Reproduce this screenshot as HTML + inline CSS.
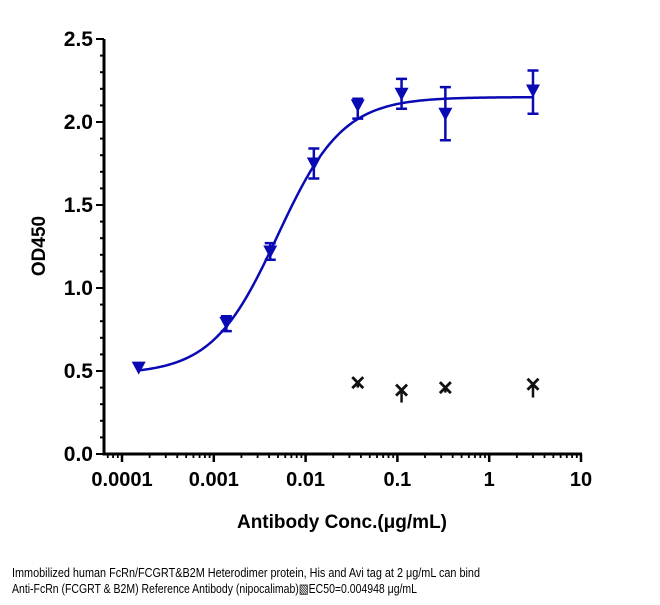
<!DOCTYPE html>
<html><head><meta charset="utf-8"><style>
html,body{margin:0;padding:0;background:#fff;}
svg{display:block;font-family:"Liberation Sans",Arial,sans-serif;}
</style></head><body>
<svg id="chart" width="660" height="605" viewBox="0 0 660 605">
<g id="axes"></g>
<g id="marks"></g>
<text x="342" y="528" font-size="19" font-weight="bold" text-anchor="middle">Antibody Conc.(μg/mL)</text>
<text transform="translate(45,246) rotate(-90)" font-size="19" font-weight="bold" text-anchor="middle">OD450</text>
<text x="12" y="577" font-size="13" textLength="468" lengthAdjust="spacingAndGlyphs">Immobilized human FcRn/FCGRT&amp;B2M Heterodimer protein, His and Avi tag at 2  μg/mL can bind</text>
<text x="12" y="593" font-size="13" textLength="405" lengthAdjust="spacingAndGlyphs">Anti-FcRn (FCGRT &amp; B2M) Reference Antibody (nipocalimab)&#9639;EC50=0.004948 μg/mL</text>
</svg>
<script>
const concBlue = [0.000152, 0.00137, 0.00412, 0.0123, 0.037, 0.111, 0.333, 3];
const odBlue = [0.52, 0.79, 1.22, 1.75, 2.10, 2.17, 2.05, 2.19];
const errBlueLo = [0.52, 0.74, 1.17, 1.66, 2.02, 2.08, 1.89, 2.05];
const errBlueHi = [0.52, 0.83, 1.27, 1.84, 2.14, 2.26, 2.21, 2.31];
const concBlack = [0.037, 0.111, 0.333, 3];
const odBlack = [0.43, 0.385, 0.40, 0.42];
const errBlackLo = [0.40, 0.31, 0.37, 0.34];
const fitBottom = 0.48, fitTop = 2.15, fitEC50 = 0.004948, fitHill = 1.22;
const yTicks = [0.0, 0.5, 1.0, 1.5, 2.0, 2.5];
const yTickLabels = ["0.0","0.5","1.0","1.5","2.0","2.5"];
const xTicks = [0.0001, 0.001, 0.01, 0.1, 1, 10];
const xTickLabels = ["0.0001","0.001","0.01","0.1","1","10"];

const NS = "http://www.w3.org/2000/svg";
const X0 = 122, DEC = 91.8, Y0 = 454, YS = 166;
function xs(v){ return X0 + (Math.log10(v) + 4) * DEC; }
function ys(v){ return Y0 - v * YS; }
function mk(tag, attrs, parent){ const e = document.createElementNS(NS, tag); for (const k in attrs) e.setAttribute(k, attrs[k]); parent.appendChild(e); return e; }
const axes = document.getElementById('axes');
const marks = document.getElementById('marks');

let el = mk('line', {x1:104,y1:ys(2.5),x2:104,y2:Y0+1.5,stroke:'#000','stroke-width':3}, axes);


el = mk('line', {x1:102.5,y1:Y0,x2:xs(10)+1,y2:Y0,stroke:'#000','stroke-width':3}, axes);



for (let v = 0; v <= 25; v++) {
  const major = v % 5 === 0;
  el = mk('line', {x1: major ? 96 : 100, y1: ys(v/10), x2: 104, y2: ys(v/10), stroke:'#000','stroke-width':2}, axes);
  
  
}
yTicks.forEach((t, i) => {
  el = mk('text', {x:93, y:ys(t)+7, 'font-size':21, 'font-weight':'bold', 'text-anchor':'end'}, axes);
  el.textContent = yTickLabels[i];
  
  
});
xTicks.forEach((t, i) => {
  el = mk('line', {x1:xs(t), y1:Y0, x2:xs(t), y2:Y0+8, stroke:'#000','stroke-width':2.5}, axes);
  
  
  el = mk('text', {x:xs(t), y:Y0+32, 'font-size':20, 'font-weight':'bold', 'text-anchor':'middle'}, axes);
  el.textContent = xTickLabels[i];
  
  
  if (i < xTicks.length - 1) {
    for (let m = 2; m <= 9; m++) {
      el = mk('line', {x1:xs(t*m), y1:Y0, x2:xs(t*m), y2:Y0+4, stroke:'#000','stroke-width':1.8}, axes);
      
      
    }
  }
});
for (let m = 7; m <= 9; m++) {
  el = mk('line', {x1:xs(0.00001*m), y1:Y0, x2:xs(0.00001*m), y2:Y0+4, stroke:'#000','stroke-width':1.8}, axes);
  
  
}

let d = '';
const lx0 = Math.log10(concBlue[0]), lx1 = Math.log10(concBlue[concBlue.length-1]);
for (let i = 0; i <= 200; i++) {
  const lx = lx0 + (lx1 - lx0) * i / 200;
  const x = Math.pow(10, lx);
  const y = fitBottom + (fitTop - fitBottom) / (1 + Math.pow(fitEC50 / x, fitHill));
  d += (i ? 'L' : 'M') + xs(x).toFixed(2) + ',' + ys(y).toFixed(2);
}
el = mk('path', {d:d, fill:'none', stroke:'#0a0ab4', 'stroke-width':2.5}, marks);



const BLUE = '#0a0ab4';
concBlue.forEach((c, i) => {
  const x = xs(c);
  if (errBlueHi[i] - errBlueLo[i] > 0.001) {
    el = mk('path', {d:`M${x},${ys(errBlueHi[i])}V${ys(errBlueLo[i])}M${x-5.5},${ys(errBlueHi[i])}h11M${x-5.5},${ys(errBlueLo[i])}h11`, stroke:BLUE, 'stroke-width':2.5, fill:'none'}, marks);
    
    
  }
  const y = ys(odBlue[i]);
  el = mk('path', {d:`M${x-7},${y-6}L${x+7},${y-6}L${x},${y+7}Z`, fill:BLUE}, marks);
  
  
});
concBlack.forEach((c, i) => {
  const x = xs(c), y = ys(odBlack[i]);
  el = mk('path', {d:`M${x},${y}V${ys(errBlackLo[i])}`, stroke:'#111', 'stroke-width':2.5}, marks);
  
  
  el = mk('path', {d:`M${x-5.5},${y-5.5}L${x+5.5},${y+5.5}M${x+5.5},${y-5.5}L${x-5.5},${y+5.5}`, stroke:'#111', 'stroke-width':2.8}, marks);
  
  
});
</script>
</body></html>
